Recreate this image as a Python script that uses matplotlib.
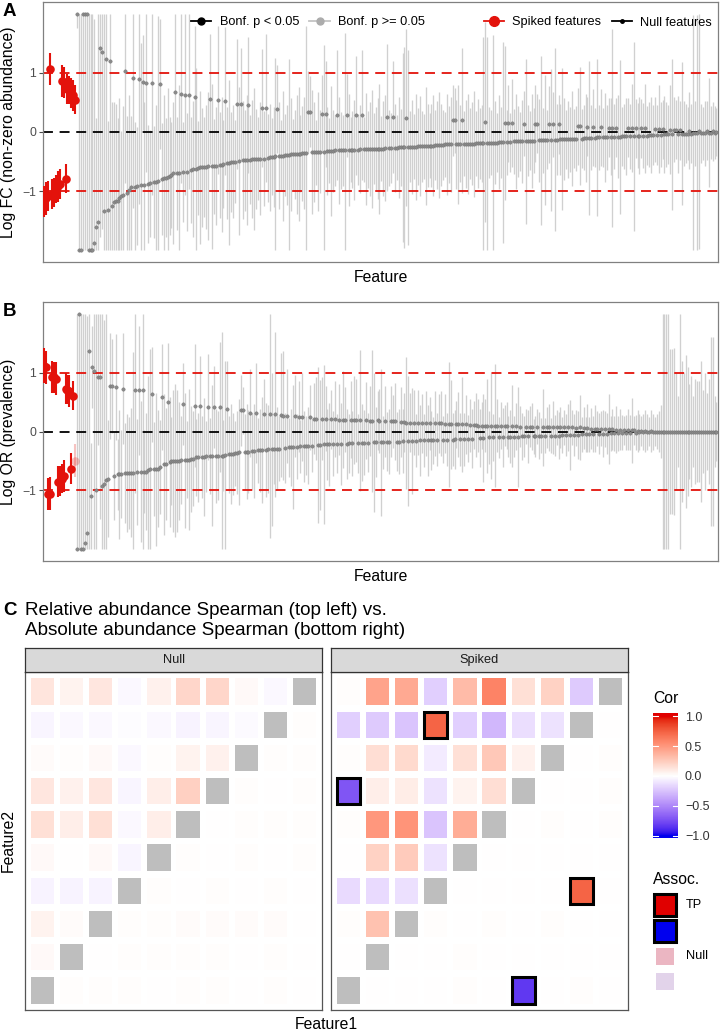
import matplotlib

matplotlib.use('Agg')

import matplotlib.pyplot as plt
import numpy as np
from matplotlib.colors import ListedColormap, Normalize, to_rgba
from matplotlib.lines import Line2D
from matplotlib.patches import Rectangle

plt.rcParams.update({
    'font.family': ['Liberation Sans', 'DejaVu Sans'],
    'font.size': 10,
    'axes.linewidth': 0.9,
})

nan = np.nan

# features ordered by |estimate|; values in hundredths (log scale), first n_spiked are spiked
n_spiked = 17

fc_est = [
    -118, -112, -108, 106, -105, -102, -96, -92, -88, 86,
    84, -79, 73, 71, 66, 62, 55, 200, -200, -200,
    200, 200, 200, -200, -200, -200, -188, -161, -153, 143,
    136, -134, 123, -132, 120, -125, -119, -117, -116, -112,
    -108, -106, 103, -103, -98, -93, 91, -93, -92, 89,
    -90, 84, -89, 83, -88, -87, 83, -85, -84, -83,
    81, -80, -78, -77, -76, -75, -73, -70, 68, -70,
    -70, 64, -68, 63, -67, 63, -64, -63, 60, -62,
    -61, -60, -60, -59, -59, -58, 56, -58, -58, -57,
    54, -56, -55, -54, 53, -53, -52, -51, -50, -50,
    47, -49, 47, -48, -48, -47, 45, -47, -46, -46,
    -46, -45, -45, 41, -45, 41, -44, -43, -42, -42,
    -41, 39, -40, -40, -40, -39, -39, -39, -38, -38,
    -38, -38, -37, -37, -36, -36, -35, 34, 34, -34,
    -34, -34, -33, -33, 31, -33, 31, -32, -32, -32,
    -32, -31, 29, -31, -31, -31, -30, 28, -30, -30,
    -30, -30, 28, -30, -29, 28, -29, -29, -29, -29,
    -29, -28, -28, -28, -28, -28, -28, -27, 25, -27,
    -27, 25, -27, -27, -26, -26, -26, -26, 24, -26,
    -25, -25, -25, -25, -24, -24, -24, -24, -23, -23,
    -23, -23, -23, -22, -22, -22, -22, -22, -21, -21,
    -21, -21, 20, 20, -21, -21, -20, 20, -20, -20,
    -20, -20, -20, -20, -19, -19, -19, -19, -19, 17,
    -19, -18, -18, -18, -18, -18, -17, -17, -17, 15,
    -17, 15, -17, 15, -16, -16, -16, -16, -16, 14,
    -16, -15, -15, -15, -15, 14, 14, -14, -14, -14,
    -14, -13, 13, -13, 13, -13, -13, 13, -12, -12,
    -12, -12, -12, -12, -11, -11, -11, 10, 10, -11,
    -10, -10, 9, -10, -10, 8, -10, -9, -9, 8,
    -9, -9, -9, 7, -8, 7, -8, 7, -8, -8,
    -7, -7, -7, 7, -7, 7, -7, 6, -6, -6,
    6, -6, 6, -6, -5, -5, -5, 5, -5, 5,
    -5, 5, -4, -4, -4, 4, -4, 4, 4, -4,
    3, -3, -3, -3, -3, 2, -3, -2, -2, -2,
    2, -2, -2, -2, 2, -1, -1, 1, -1, 0,
]
fc_halfwidth = [
    26, 28, 25, 27, 26, 25, 24, 26, 25, 27,
    26, 25, 26, 24, 25, 26, 24, 24, 400, 400,
    400, 400, 400, 400, 400, 400, 380, 185, 360, 320,
    300, 360, 340, 150, 330, 175, 170, 165, 140, 170,
    110, 150, 190, 130, 160, 120, 220, 110, 100, 210,
    240, 80, 140, 150, 100, 90, 190, 95, 130, 280,
    110, 95, 140, 100, 150, 100, 90, 120, 140, 95,
    150, 150, 85, 170, 100, 160, 90, 115, 120, 170,
    80, 130, 100, 85, 105, 125, 110, 140, 80, 100,
    125, 90, 115, 75, 125, 95, 140, 85, 95, 70,
    110, 125, 95, 100, 85, 110, 115, 75, 100, 120,
    85, 70, 95, 100, 80, 125, 75, 90, 65, 85,
    166, 75, 90, 60, 110, 70, 85, 163, 95, 60,
    75, 100, 114, 65, 80, 95, 215, 70, 60, 105,
    85, 55, 100, 70, 65, 180, 90, 75, 55, 110,
    70, 60, 110, 90, 65, 60, 198, 70, 95, 55,
    65, 85, 100, 60, 75, 110, 55, 95, 65, 80,
    100, 60, 70, 85, 110, 55, 80, 90, 124, 65,
    60, 95, 75, 55, 85, 65, 160, 170, 150, 165,
    60, 80, 55, 90, 65, 85, 60, 55, 100, 70,
    55, 70, 85, 60, 74, 90, 70, 60, 55, 85,
    65, 80, 60, 55, 75, 100, 65, 123, 55, 75,
    85, 60, 70, 90, 55, 75, 60, 65, 180, 170,
    180, 60, 55, 183, 70, 50, 80, 60, 170, 130,
    55, 65, 50, 75, 55, 80, 60, 50, 70, 55,
    140, 60, 50, 80, 55, 65, 50, 70, 143, 55,
    110, 50, 65, 120, 55, 155, 60, 50, 60, 120,
    70, 50, 65, 55, 80, 50, 55, 65, 100, 50,
    55, 75, 50, 130, 55, 65, 50, 133, 55, 65,
    50, 75, 55, 50, 65, 167, 55, 50, 70, 130,
    50, 55, 65, 50, 55, 75, 160, 50, 55, 65,
    50, 55, 75, 50, 55, 65, 50, 55, 50, 75,
    55, 50, 65, 55, 50, 75, 128, 55, 50, 65,
    50, 121, 55, 50, 45, 65, 50, 200, 55, 200,
    200, 50, 45, 55, 50, 92, 45, 50, 45, 40,
]
fc_spiked_sig = [1, 1, 1, 1, 1, 1, 1, 1, 1, 1, 1, 1, 1, 1, 1, 1, 1]

or_est = [
    112, 109, -106, -106, 93, 92, 90, -85, -84, -80,
    -76, 73, 71, 69, -63, 61, -50, -200, 200, -200,
    -200, -190, -173, 136, -110, 110, 103, -100, 92, 92,
    -93, -90, -83, -80, 78, 77, -75, 75, -73, -73,
    -72, 73, -71, -70, -70, -70, -70, 70, -68, 70,
    -68, 70, -68, -68, -66, -64, 63, -64, -64, -63,
    -60, 58, -56, -55, 50, -52, -50, -50, -50, -50,
    -50, -49, 47, -49, -48, -48, -47, -46, 44, -44,
    -44, 43, -43, -43, -42, 42, -42, -41, 42, -41,
    -41, 42, -41, -41, -40, 39, -39, -38, -38, -37,
    -36, -35, 36, 36, -35, -34, -34, 32, -33, -33,
    31, -32, -32, -31, 29, -31, -30, 29, -30, -30,
    29, -29, -29, 28, 27, -28, 27, -27, -27, -26,
    26, -26, 25, -25, 25, -25, -24, -24, 24, -24,
    22, 22, -23, -23, 22, -22, 22, -22, -22, 21,
    -21, 21, -21, 20, -21, 20, 20, -21, -20, 20,
    -20, 19, 19, -20, 19, -19, -19, 19, -19, 18,
    18, -18, -18, 19, 18, -18, -18, 17, -17, -17,
    17, 17, 17, -17, -17, 16, -16, 16, 15, -16,
    15, -16, 15, -16, 15, -15, 14, -15, 14, -15,
    14, -15, -15, 14, -14, 14, 14, -14, 13, -14,
    12, 12, -14, -13, 12, 12, -13, 12, -13, 12,
    -12, 11, -12, 11, 11, 10, -11, 10, -11, 10,
    10, -10, 10, -10, 10, 10, -10, 10, -10, 10,
    10, -9, -9, 9, -9, 9, -9, 8, -8, -8,
    8, -8, 8, 8, -8, -8, 8, -7, -7, 7,
    -7, 7, 7, -7, 7, -7, 7, -7, 7, -6,
    7, -6, 7, -6, 7, -6, 6, -6, 7, -5,
    6, -5, 6, -5, 5, -4, 5, 5, -4, 5,
    -4, 4, -4, 4, -3, 4, -3, 3, -3, 3,
    -2, 2, -2, 3, -2, 2, 2, -2, 1, -1,
    1, -1, 1, -1, 0, 1, -1, 0, 0, 0,
    0, 0, 0, 0, 0, 0, 0, 0, 0, 0,
    0, 0, 0, 0, 0, 0, 0, 0, 0, 0,
    0, 0, 0, 0, 0, 0, 0, 0, 0, 0,
]
or_halfwidth = [
    30, 28, 27, 28, 27, 26, 28, 27, 26, 25,
    27, 26, 25, 27, 26, 25, 28, 400, 400, 400,
    400, 400, 370, 380, 90, 70, 410, 380, 115, 240,
    390, 280, 350, 100, 90, 80, 75, 90, 60, 110,
    75, 95, 85, 100, 95, 110, 205, 175, 90, 110,
    120, 270, 70, 100, 160, 205, 80, 80, 130, 100,
    80, 90, 120, 95, 100, 110, 75, 120, 130, 120,
    100, 75, 70, 115, 65, 120, 90, 80, 105, 65,
    75, 85, 70, 100, 60, 90, 65, 120, 70, 80,
    75, 110, 210, 60, 160, 80, 65, 85, 70, 55,
    70, 90, 60, 40, 65, 80, 70, 75, 65, 80,
    85, 55, 70, 90, 60, 80, 75, 210, 130, 60,
    140, 70, 55, 105, 110, 60, 80, 50, 65, 105,
    70, 55, 60, 45, 75, 60, 50, 65, 55, 45,
    60, 70, 133, 110, 70, 135, 55, 60, 70, 50,
    55, 65, 50, 60, 70, 82, 55, 60, 50, 65,
    55, 75, 70, 50, 120, 65, 55, 65, 50, 60,
    120, 118, 60, 50, 55, 125, 45, 60, 50, 55,
    60, 45, 65, 50, 55, 60, 55, 50, 112, 110,
    50, 90, 55, 45, 55, 60, 50, 45, 55, 60,
    45, 50, 40, 55, 45, 50, 55, 40, 50, 45,
    106, 75, 45, 50, 40, 55, 45, 80, 45, 50,
    40, 45, 50, 40, 55, 45, 50, 40, 75, 45,
    80, 45, 90, 40, 105, 45, 35, 40, 50, 35,
    40, 35, 45, 70, 35, 40, 85, 35, 40, 35,
    30, 45, 35, 40, 30, 35, 30, 40, 30, 65,
    30, 35, 40, 30, 45, 35, 30, 40, 35, 30,
    30, 35, 40, 60, 30, 35, 30, 40, 55, 30,
    35, 30, 40, 30, 35, 30, 40, 30, 35, 30,
    40, 30, 35, 60, 30, 35, 30, 40, 30, 35,
    30, 25, 30, 35, 30, 55, 25, 30, 35, 30,
    25, 30, 35, 30, 25, 35, 30, 25, 30, 35,
    45, 200, 200, 200, 200, 140, 140, 142, 100, 60,
    210, 120, 100, 130, 110, 80, 95, 60, 90, 85,
    85, 120, 70, 100, 65, 90, 160, 160, 60, 50,
]
or_spiked_sig = [1, 1, 1, 1, 1, 1, 1, 1, 1, 1, 1, 1, 1, 1, 1, 1, 0]

# Spearman correlations, rows top to bottom, columns Feature1 1..10 (nan = diagonal)
null_cor = [
    [0.13, 0.06, 0.12, -0.03, 0.07, 0.20, 0.20, 0.03, -0.03, nan],
    [-0.04, -0.03, -0.03, -0.01, -0.03, -0.05, -0.04, -0.02, nan, 0.01],
    [0.02, 0.01, 0.03, -0.03, 0.01, 0.06, 0.07, nan, 0.01, 0.01],
    [0.12, 0.07, 0.12, -0.04, 0.08, 0.23, nan, 0.01, 0.00, 0.01],
    [0.15, 0.08, 0.15, -0.03, 0.08, nan, 0.00, 0.01, 0.01, 0.01],
    [0.03, 0.00, 0.03, -0.04, nan, 0.01, 0.00, 0.01, 0.00, 0.01],
    [-0.05, -0.05, -0.05, nan, 0.01, 0.00, 0.01, 0.00, 0.01, 0.00],
    [0.06, 0.02, nan, 0.01, 0.01, 0.02, 0.02, 0.02, 0.02, 0.00],
    [0.03, nan, 0.00, 0.01, 0.01, 0.01, 0.01, 0.00, 0.01, 0.00],
    [nan, 0.01, 0.01, 0.01, 0.00, 0.01, 0.01, 0.00, 0.01, 0.00],
]
spiked_cor = [
    [0.01, 0.45, 0.42, -0.20, 0.33, 0.60, 0.15, 0.22, -0.22, nan],
    [-0.20, -0.22, -0.25, 0.74, -0.20, -0.30, -0.14, -0.12, nan, 0.00],
    [0.01, 0.16, 0.18, -0.08, 0.15, 0.27, 0.07, nan, 0.00, 0.01],
    [-0.72, 0.08, 0.09, -0.12, 0.06, 0.16, nan, 0.00, 0.00, 0.01],
    [0.01, 0.50, 0.52, -0.25, 0.40, nan, 0.00, 0.01, 0.00, 0.01],
    [0.00, 0.22, 0.25, -0.12, nan, 0.00, 0.00, 0.00, 0.00, 0.00],
    [-0.15, -0.15, -0.13, nan, 0.00, 0.00, 0.00, 0.00, 0.74, 0.00],
    [0.01, 0.30, nan, 0.01, 0.00, 0.01, 0.00, 0.01, 0.00, 0.00],
    [0.00, nan, 0.00, 0.00, 0.01, 0.00, 0.00, 0.00, 0.00, 0.00],
    [nan, 0.00, 0.00, 0.00, 0.01, 0.00, -0.84, 0.00, 0.01, 0.00],
]
tp_rows = [2, 4, 7, 10]
tp_cols = [4, 1, 9, 7]

cor_ticks = [-1.0, -0.5, 0.0, 0.5, 1.0]
assoc_labels = ['TP', '', 'Null', '']
assoc_colors = ['#e00000', '#0000ee', '#ebb6c2', '#e2d3ea']

RED = '#e3120b'
W, H = 721, 1032


def frame(l, t, r, b):
    return [l / W, 1 - b / H, (r - l) / W, (b - t) / H]


def fig_text(x, y, s, **kw):
    fig.text(x / W, 1 - y / H, s, **kw)


# blue-white-red gradient interpolated in Lab space
M = np.array([[0.4124564, 0.3575761, 0.1804375],
              [0.2126729, 0.7151522, 0.0721750],
              [0.0193339, 0.1191920, 0.9503041]])
WHITE = np.array([0.95047, 1.0, 1.08883])


def to_lab(rgb):
    c = np.asarray(rgb, float)
    lin = np.where(c <= 0.04045, c / 12.92, ((c + 0.055) / 1.055) ** 2.4)
    xyz = M @ lin / WHITE
    f = np.where(xyz > 216 / 24389, np.cbrt(xyz), (24389 / 27 * xyz + 16) / 116)
    return np.array([116 * f[1] - 16, 500 * (f[0] - f[1]), 200 * (f[1] - f[2])])


def from_lab(lab):
    fy = (lab[0] + 16) / 116
    f = np.array([fy + lab[1] / 500, fy, fy - lab[2] / 200])
    xyz = np.where(f ** 3 > 216 / 24389, f ** 3, (116 * f - 16) / (24389 / 27)) * WHITE
    lin = np.clip(np.linalg.solve(M, xyz), 0, 1)
    return np.where(lin <= 0.0031308, 12.92 * lin, 1.055 * lin ** (1 / 2.4) - 0.055)


lab_b, lab_w, lab_r = to_lab([0.0, 0.0, 0.93]), to_lab([1, 1, 1]), to_lab([0.88, 0.0, 0.0])
grad = [from_lab(lab_w + abs(v) * ((lab_b if v < 0 else lab_r) - lab_w)) for v in np.linspace(-1, 1, 256)]
cor_cmap = ListedColormap(np.clip(grad, 0, 1))
norm = Normalize(-1, 1)

fig = plt.figure(figsize=(W / 100, H / 100), dpi=100)


def effect_panel(top, bottom, est, hw, sig, ylabel, tag):
    ax = fig.add_axes(frame(43, top, 718, bottom))
    est = np.array(est) / 100
    hw = np.array(hw) / 100
    x = np.arange(1, len(est) + 1)
    lo = np.clip(est - hw, -2, 2)
    hi = np.clip(est + hw, -2, 2)
    pt = np.clip(est, -2, 2)
    nul = slice(n_spiked, None)
    ax.vlines(x[nul], lo[nul], hi[nul], color='#d0d0d0', lw=0.95, zorder=1)
    ax.axhline(0, color='black', lw=1.3, ls=(0, (5.5, 3.7)), zorder=2)
    for v in (-1, 1):
        ax.axhline(v, color=RED, lw=1.3, ls=(0, (5.5, 3.7)), zorder=2)
    ax.scatter(x[nul], pt[nul], s=6, color='#8a8a8a', edgecolor='#707070', lw=0.3, zorder=3)
    for i in range(n_spiked):
        a = 1.0 if sig[i] else 0.25
        ax.vlines(x[i], lo[i], hi[i], color=RED, lw=1.5, alpha=a, zorder=4)
        ax.scatter(x[i], pt[i], s=38, color=RED, lw=0, alpha=a, zorder=5)
    ax.set_xlim(0.3, 350.8)
    ax.set_ylim(-2.2, 2.2)
    ax.set_xticks([])
    ax.set_yticks([-1, 0, 1])
    ax.set_yticklabels(['\u22121', '0', '1'])
    ax.tick_params(axis='y', length=3, width=0.8, color='#4d4d4d', labelsize=8.8,
                   labelcolor='#4d4d4d', pad=2)
    for s in ax.spines.values():
        s.set_color('#808080')
    fig_text(9, (top + bottom) / 2, ylabel, rotation=90, ha='center', va='center', fontsize=11.3)
    fig_text(380.5, bottom + 20, 'Feature', ha='center', va='baseline', fontsize=11.3)
    fig_text(3, top + 14, tag, ha='left', va='baseline', fontsize=13.5, weight='bold')
    return ax


ax_a = effect_panel(2, 262, fc_est, fc_halfwidth, fc_spiked_sig, 'Log FC (non-zero abundance)', 'A')
ax_b = effect_panel(302, 561, or_est, or_halfwidth, or_spiked_sig, 'Log OR (prevalence)', 'B')

leg_y = 1 - 20.5 / 260
h1 = [Line2D([], [], color='black', marker='o', ms=5, lw=1.3),
      Line2D([], [], color='#c4c4c4', marker='o', ms=5, lw=1.3,
             markerfacecolor='#acacac', markeredgecolor='#acacac')]
leg1 = ax_a.legend(h1, ['Bonf. p < 0.05', 'Bonf. p >= 0.05'], loc='center left',
                   bbox_to_anchor=((191 - 43) / 675, leg_y), ncol=2, frameon=False, fontsize=9.2,
                   handlelength=1.6, handletextpad=0.65, columnspacing=0.8, borderpad=0,
                   borderaxespad=0)
ax_a.add_artist(leg1)
h2 = [Line2D([], [], color=RED, marker='o', ms=7, lw=1.3),
      Line2D([], [], color='black', marker='o', ms=2.5, lw=1.3)]
ax_a.legend(h2, ['Spiked features', 'Null features'], loc='center right',
            bbox_to_anchor=((712 - 43) / 675, leg_y), ncol=2, frameon=False, fontsize=9.2,
            handlelength=1.6, handletextpad=0.65, columnspacing=0.8, borderpad=0, borderaxespad=0)

# panel C
fig_text(3, 615, 'C', ha='left', va='baseline', fontsize=13.5, weight='bold')
fig_text(25, 615, 'Relative abundance Spearman (top left) vs.', ha='left', va='baseline', fontsize=13.6)
fig_text(25, 635, 'Absolute abundance Spearman (bottom right)', ha='left', va='baseline', fontsize=13.6)


def corr_facet(l, r, title, mat, tr, tc):
    ax = fig.add_axes(frame(l, 672, r, 1010))
    m = np.array(mat, float)
    rows, cols = np.indices(m.shape) + 1
    colors = cor_cmap(norm(np.nan_to_num(m)))
    colors[np.isnan(m)] = to_rgba('#bebebe')
    ax.bar(cols.ravel(), 0.8, bottom=rows.ravel() - 0.4, width=0.8,
           color=colors.reshape(-1, 4), lw=0)
    if tr:
        tr, tc = np.array(tr), np.array(tc)
        ax.bar(tc, 0.8, bottom=tr - 0.4, width=0.8, color=cor_cmap(norm(m[tr - 1, tc - 1])),
               edgecolor='black', lw=2.2, zorder=3)
    ax.set_xlim(0.41, 10.59)
    ax.set_ylim(10.59, 0.41)
    ax.set_xticks([])
    ax.set_yticks([])
    for s in ax.spines.values():
        s.set_color('#555555')
    sax = fig.add_axes(frame(l, 648, r, 672))
    sax.set_facecolor('#d9d9d9')
    sax.set_xticks([])
    sax.set_yticks([])
    for s in sax.spines.values():
        s.set_color('#333333')
    sax.text(0.5, 0.5, title, ha='center', va='center', fontsize=9.2, color='#1a1a1a',
             transform=sax.transAxes)


corr_facet(25, 322, 'Null', null_cor, [], [])
corr_facet(331, 628, 'Spiked', spiked_cor, tp_rows, tp_cols)
fig_text(8.5, 841, 'Feature2', rotation=90, ha='center', va='center', fontsize=11.3)
fig_text(326.5, 1029, 'Feature1', ha='center', va='baseline', fontsize=11.3)

# colour bar
cax = fig.add_axes(frame(653, 713, 678, 838))
cax.imshow(np.linspace(-1.04, 1.055, 300)[:, None], cmap=cor_cmap, norm=norm, aspect='auto',
           origin='lower', extent=[0, 1, -1.04, 1.055])
for t in cor_ticks:
    cax.plot([0, 0.2], [t, t], color='white', lw=0.8)
    cax.plot([0.8, 1], [t, t], color='white', lw=0.8)
cax.set_xlim(0, 1)
cax.set_ylim(-1.04, 1.055)
cax.set_xticks([])
cax.yaxis.tick_right()
cax.set_yticks(cor_ticks)
cax.set_yticklabels([f'{t:.1f}'.replace('-', '\u2212') for t in cor_ticks])
cax.tick_params(length=0, pad=5, labelsize=9, labelcolor='#333333')
for s in cax.spines.values():
    s.set_visible(False)
fig_text(653, 703, 'Cor', ha='left', va='baseline', fontsize=11.3)

# association legend
fig_text(653, 884, 'Assoc.', ha='left', va='baseline', fontsize=11.3)
kax = fig.add_axes(frame(640, 888, 721, 1000))
kax.set_xlim(640, 721)
kax.set_ylim(1000, 888)
kax.axis('off')
for k, (lab, col) in enumerate(zip(assoc_labels, assoc_colors)):
    yc = 905 + 25.5 * k
    if k < 2:
        kax.add_patch(Rectangle((654, yc - 11), 22, 22, facecolor=col, edgecolor='black', lw=2.2))
    else:
        kax.add_patch(Rectangle((656, yc - 8.5), 18, 17, facecolor=col, lw=0))
    kax.text(686, yc, lab, ha='left', va='center', fontsize=9.2)

fig.savefig('out.png', dpi=100)
print('saved')
